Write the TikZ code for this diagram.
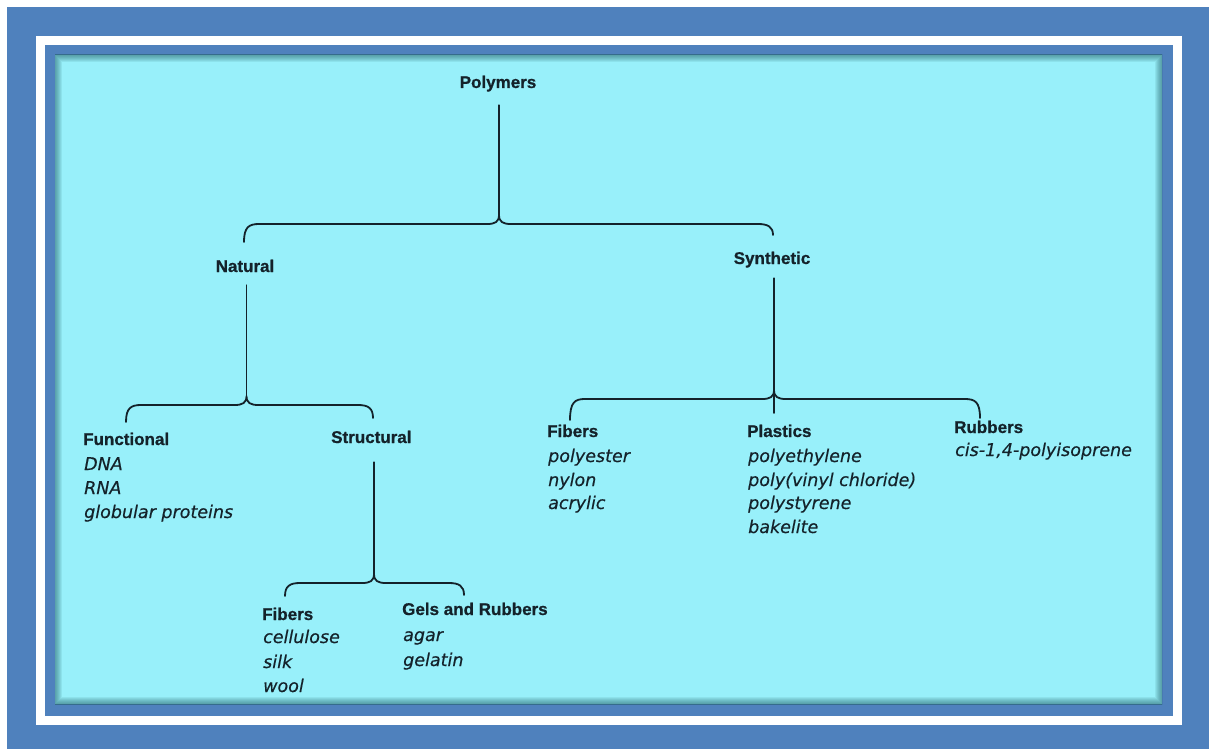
\documentclass[tikz,border=0pt]{standalone}
\usepackage{fontspec}
\setmainfont{Liberation Sans}
\newfontfamily\hfont{Liberation Sans}[BoldFeatures={FakeBold=0.8}]
\newfontfamily\ifont{DejaVu Sans}[ItalicFeatures={FakeBold=0.4}]
\definecolor{frameblue}{HTML}{4F81BD}
\definecolor{panel}{HTML}{98F0FA}
\definecolor{ink}{HTML}{14222A}
\definecolor{edgeshadow}{HTML}{1E5A5E}
% #1 name, #2 cusp x, #3 horizontal y, #4 left x, #5 left end y, #6 right x, #7 right end y
\newcommand\mybranch[7]{%
  \coordinate (#1-c) at (#2,#3-9);
  \coordinate (#1-l) at (#4,#5);
  \coordinate (#1-r) at (#6,#7);
  \draw[brace] (#1-l) .. controls (#4,#3+3) and (#4+5,#3) .. (#4+15,#3)
    -- (#2-12,#3) .. controls (#2-4,#3) and (#2,#3-2) .. (#1-c)
    .. controls (#2,#3-2) and (#2+4,#3) .. (#2+12,#3)
    -- (#6-15,#3) .. controls (#6-5,#3) and (#6,#3+3) .. (#1-r);
}
\begin{document}
\begin{tikzpicture}[x=1pt,y=-1pt,
  hdr/.style={font=\hfont\bfseries\fontsize{17}{20}\selectfont, text=ink, inner sep=0pt, text depth=0pt, anchor=base west},
  itm/.style={font=\ifont\itshape\fontsize{17.5}{20}\selectfont, text=ink, inner sep=0pt, anchor=base west},
  brace/.style={draw=ink, line width=1.8pt, line cap=round, line join=round}]
\useasboundingbox (0,0) rectangle (1209,749);
\fill[white] (0,0) rectangle (1209,749);
\fill[frameblue] (7,7) rectangle (1209,749);
\fill[white] (36,36) rectangle (1182,725);
\fill[frameblue] (45,45) rectangle (1173,716);
\fill[panel] (55,55) rectangle (1162,704);
\begin{scope}
  \clip (55,55) rectangle (1162,704);
  \foreach \w in {2,4,...,14} \draw[draw=edgeshadow, draw opacity=0.09, line width=\w pt] (55,55) rectangle (1162,704);
\end{scope}

% headers
\node[hdr, anchor=base] (poly) at (498,88) {Polymers};
\node[hdr, anchor=base] (nat) at (245,272) {Natural};
\node[hdr, anchor=base] (syn) at (772,264) {Synthetic};
\node[hdr] (fun) at (83,445) {Functional};
\node[hdr] (str) at (331,443) {Structural};
\node[hdr] (nfib) at (262,620) {Fibers};
\node[hdr] (gel) at (402,615) {Gels and Rubbers};
\node[hdr] (sfib) at (547,437) {Fibers};
\node[hdr] (pla) at (747,437) {Plastics};
\node[hdr] (rub) at (954,433) {Rubbers};

% items
\node[itm] (dna) at (84,470) {DNA};
\node[itm] (rna) at (84,494) {RNA};
\node[itm] (glob) at (84,518) {globular proteins};
\node[itm] (cell) at (263,643) {cellulose};
\node[itm] (silk) at (263,668) {silk};
\node[itm] (wool) at (263,692) {wool};
\node[itm] (agar) at (403,641) {agar};
\node[itm] (gelat) at (403,666) {gelatin};
\node[itm] (pest) at (548,462) {polyester};
\node[itm] (nyl) at (548,486) {nylon};
\node[itm] (acr) at (548,509) {acrylic};
\node[itm] (pe) at (748,462) {polyethylene};
\node[itm] (pvc) at (748,486) {poly(vinyl chloride)};
\node[itm] (ps) at (748,509) {polystyrene};
\node[itm] (bak) at (748,533) {bakelite};
\node[itm] (cis) at (955,456) {cis-1,4-polyisoprene};

% branches
\mybranch{b1}{499}{224}{244}{242}{773}{235}
\mybranch{b2}{246.5}{405}{126}{422}{373}{418}
\mybranch{b3}{374}{583}{285}{596}{464}{595}
\mybranch{b4}{774}{399}{570}{420}{980}{418}
\coordinate (b4-t) at (774,413);

\draw[brace, shorten <=17pt] (poly.south -| b1-c) -- (b1-c);
\draw[brace, shorten <=13pt] (nat.south -| b2-c) -- (b2-c);
\draw[brace, shorten <=19pt] (str.south -| b3-c) -- (b3-c);
\draw[brace, shorten <=14pt] (syn.south -| b4-c) -- (b4-c) -- (b4-t);
\end{tikzpicture}
\end{document}
